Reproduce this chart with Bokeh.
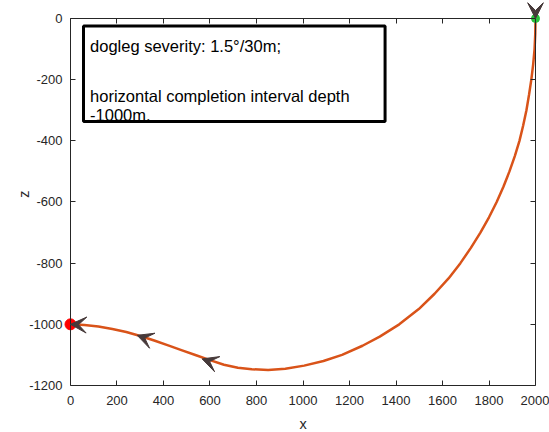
from bokeh.plotting import figure
from bokeh.models import (Range1d, LinearAxis, FixedTicker, Arrow, VeeHead,
                          ColumnDataSource, BoxAnnotation, Label)
from bokeh.embed import file_html
from bokeh.resources import INLINE

# Well trajectory: horizontal displacement x (m) and depth z (m),
# from the wellhead down through the build section to the lateral end.
path_x = [2000, 1999, 1996, 1990, 1982, 1972, 1961, 1947, 1931, 1911, 1888,
          1862, 1833, 1800, 1763, 1722, 1677, 1626, 1566, 1498, 1414, 1330,
          1256, 1168, 1088, 1005, 924, 850, 780, 720, 660, 600, 540, 480,
          420, 360, 300, 240, 180, 120, 60, 0]
path_z = [0, -50, -100, -150, -200, -250, -300, -350, -400, -450, -500,
          -550, -600, -650, -700, -750, -800, -850, -900, -950, -1000, -1040,
          -1070, -1100, -1120, -1135, -1145, -1149, -1147, -1142, -1132, -1117,
          -1101, -1085, -1069, -1053, -1038, -1025, -1015, -1007, -1002, -1000]

# Direction markers along the path (head point and a point just behind it)
arrow_head_x = [2000, 566, 287, 0]
arrow_head_z = [0, -1113, -1036, -1000]
arrow_tail_x = [2000, 600, 320, 30]
arrow_tail_z = [30, -1122, -1045, -1001]

# Wellhead and lateral end points
start_x, start_z = [2000], [0]
end_x, end_z = [0], [-1000]

x_ticks = [0, 200, 400, 600, 800, 1000, 1200, 1400, 1600, 1800, 2000]
x_tick_labels = ["0", "200", "400", "600", "800", "1000", "1200", "1400",
                 "1600", "1800", "2000"]
z_ticks = [-1200, -1000, -800, -600, -400, -200, 0]
z_tick_labels = ["-1200", "-1000", "-800", "-600", "-400", "-200", "0"]

note_lines = ["dogleg severity: 1.5\u00b0/30m;",
              "horizontal completion interval depth",
              "-1000m."]

FONT = "Liberation Sans"
AXIS_COLOR = "#262626"
X_LIM = (0, 2000)
Z_LIM = (-1200, 0)

# The frame reaches a little beyond the axes box on the left, top and right
# so the end markers and arrowheads sitting on the box edges stay whole.
p = figure(frame_width=485, frame_height=367 + 16,
           x_range=Range1d(-43, 2043), y_range=Range1d(-1200, 52.3),
           x_axis_location=None, y_axis_location=None,
           output_backend="svg", toolbar_location=None,
           min_border_left=60, min_border_right=4,
           min_border_top=2, min_border_bottom=47)
p.grid.visible = False
p.outline_line_color = None
p.background_fill_color = "white"
p.border_fill_color = "white"


def base_axis(ax, ticks):
    ax.ticker = FixedTicker(ticks=ticks)
    ax.minor_tick_line_color = None
    ax.major_tick_in = 5
    ax.major_tick_out = 0
    ax.axis_line_color = AXIS_COLOR
    ax.major_tick_line_color = AXIS_COLOR
    ax.axis_line_width = 1
    ax.major_label_text_font = FONT
    ax.major_label_text_color = AXIS_COLOR
    ax.major_label_text_font_size = "13px"
    ax.axis_label_text_font = FONT
    ax.axis_label_text_font_style = "normal"
    ax.axis_label_text_font_size = "14.5px"
    ax.axis_label_text_color = AXIS_COLOR
    return ax


def box_edge(side, loc, ticks, bounds):
    # unlabeled axis line with inward ticks, pinned to a data location
    ax = base_axis(LinearAxis(fixed_location=loc, bounds=bounds), ticks)
    ax.major_label_text_font_size = "0px"
    ax.major_label_text_color = None
    p.add_layout(ax, side)
    return ax


# x axis: regular bottom axis (the frame bottom is z = -1200)
xb = base_axis(LinearAxis(bounds=X_LIM, axis_label="x"), x_ticks)
xb.major_label_overrides = dict(zip(x_ticks, x_tick_labels))
xb.major_label_standoff = 10
xb.axis_label_standoff = 8
p.add_layout(xb, "below")

# z axis: labels from the side panel, line and ticks pinned at x = 0
zl = base_axis(LinearAxis(bounds=Z_LIM, axis_label="z"), z_ticks)
zl.major_label_overrides = dict(zip(z_ticks, z_tick_labels))
zl.axis_line_color = None
zl.major_tick_line_color = None
zl.major_label_standoff = -2
zl.axis_label_standoff = -6
p.add_layout(zl, "left")

box_edge("left", X_LIM[0], z_ticks, Z_LIM)
box_edge("above", Z_LIM[1], x_ticks, X_LIM)
box_edge("right", X_LIM[1], z_ticks, Z_LIM)

# Trajectory
p.line(path_x, path_z, line_color="#D95319", line_width=2.5)

# End points
p.scatter(end_x, end_z, size=11, color="#ff0000")
p.scatter(start_x, start_z, size=8, color="#27c23a")

# Direction arrowheads
arrow_src = ColumnDataSource(dict(x0=arrow_tail_x, y0=arrow_tail_z,
                                  x1=arrow_head_x, y1=arrow_head_z))
p.add_layout(Arrow(end=VeeHead(size=16, fill_color="#463939",
                               line_color="#463939", line_width=1),
                   x_start="x0", y_start="y0", x_end="x1", y_end="y1",
                   source=arrow_src, line_alpha=0))

# Annotation text box
for text, z in zip(note_lines, [-88.5, -254.5, -314]):
    p.add_layout(Label(x=84, y=z, text=text, text_font=FONT,
                       text_font_size="16.5px", text_color="black",
                       text_baseline="alphabetic", text_align="left"))
p.add_layout(BoxAnnotation(left=56, right=1353, top=-24.5, bottom=-337,
                           fill_color="white", fill_alpha=0,
                           line_color="black", line_alpha=1, line_width=3))

open("out.html", "w").write(file_html(p, INLINE))
